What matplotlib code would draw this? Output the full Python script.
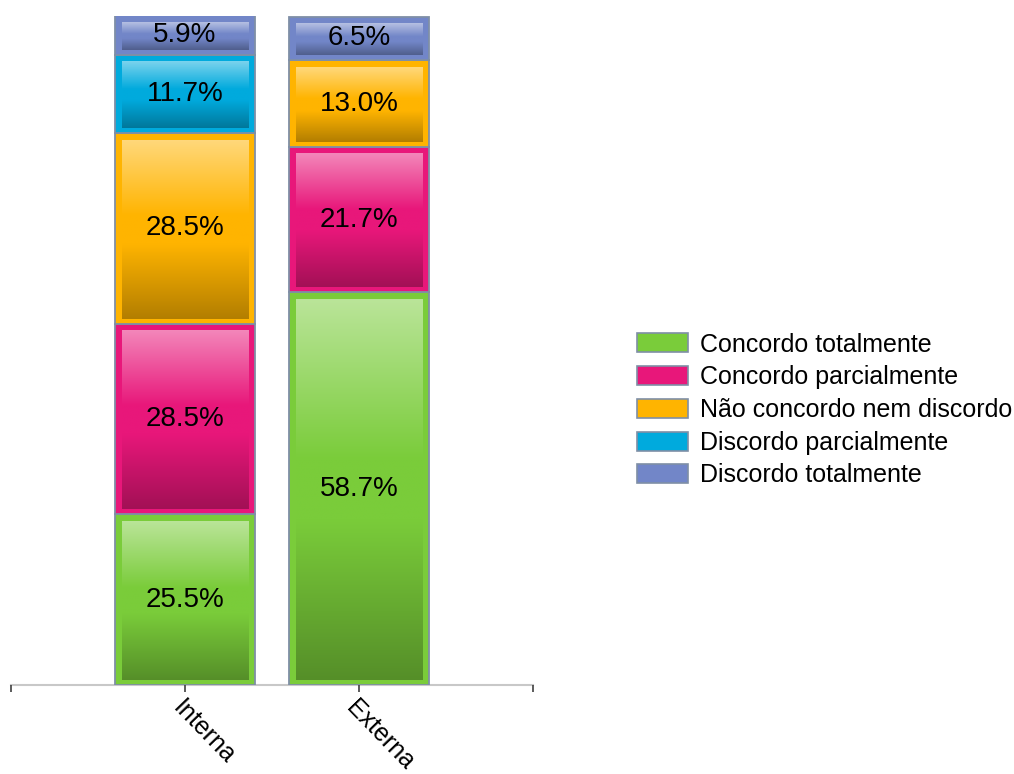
import numpy as np
import matplotlib
matplotlib.use("Agg")
import matplotlib.pyplot as plt
from matplotlib.patches import Patch
from matplotlib.colors import to_rgb

plt.rcParams['font.family'] = ['Liberation Sans', 'DejaVu Sans']

categories = ["Interna", "Externa"]
series_names = ["Concordo totalmente", "Concordo parcialmente",
                "Não concordo nem discordo", "Discordo parcialmente",
                "Discordo totalmente"]
interna = [25.5, 28.5, 28.5, 11.7, 5.9]
externa = [58.7, 21.7, 13.0, 0.0, 6.5]
colors = ["#7ACC3A", "#E8177A", "#FFB400", "#00AADD", "#7286C8"]
edge_color = "#7F8FA6"

values = np.array([interna, externa])  # rows: categories

W, H, DPI = 10.14, 7.74, 100
fig = plt.figure(figsize=(W, H), dpi=DPI)
ax_left, ax_right = 11 / 1014, 533 / 1014
ax_bot, ax_top = 1 - 685 / 774, 1 - 16 / 774
ax = fig.add_axes([ax_left, ax_bot, ax_right - ax_left, ax_top - ax_bot])

xpos = np.array([1, 2])
bar_w = 0.805
ax.set_xlim(0, 3)
ax.set_ylim(0, 100)

# pixel -> data conversions
px_x = 3 / (522)
px_y = 100 / 669


def gradient_img(base, n=200):
    b = np.array(to_rgb(base))
    light = b + (1 - b) * 0.48
    dark = b * 0.70
    t = np.linspace(0, 1, n)
    img = np.zeros((n, 1, 3))
    for i, ti in enumerate(t):
        if ti < 0.42:
            f = ti / 0.42
            c = light * (1 - f) + b * f
        elif ti < 0.58:
            c = b
        else:
            f = (ti - 0.58) / 0.42
            c = b * (1 - f) + dark * f
        img[i, 0] = c
    return img


bottoms = np.zeros(len(categories))
for j, name in enumerate(series_names):
    vals = values[:, j]
    bars = ax.bar(xpos, vals, width=bar_w, bottom=bottoms, color=colors[j],
                  edgecolor=edge_color, linewidth=1.3, zorder=2)
    for k, rect in enumerate(bars):
        v = vals[k]
        if v <= 0:
            continue
        x0 = rect.get_x() + 7 * px_x
        x1 = rect.get_x() + rect.get_width() - 7 * px_x
        y0 = rect.get_y() + 5 * px_y
        y1 = rect.get_y() + rect.get_height() - 7 * px_y
        ax.imshow(gradient_img(colors[j]), extent=(x0, x1, y0, y1),
                  aspect='auto', origin='upper', zorder=3,
                  interpolation='bilinear')
        ax.text(rect.get_x() + rect.get_width() / 2,
                rect.get_y() + rect.get_height() / 2,
                f"{v:.1f}%", ha='center', va='center', fontsize=20,
                color='black', zorder=4)
    bottoms = bottoms + vals

ax.set_xlim(0, 3)
ax.set_ylim(0, 100)

for s in ['top', 'right', 'left']:
    ax.spines[s].set_visible(False)
ax.spines['bottom'].set_color('#C8C8C8')
ax.spines['bottom'].set_linewidth(1.5)
ax.spines['bottom'].set_zorder(1)
ax.set_yticks([])
ax.set_xticks([0, 1, 2, 3])
ax.set_xticklabels([''] + categories + [''])
ax.tick_params(axis='x', direction='out', length=5, width=1.2,
               color='#404040', pad=3, labelsize=18)
for lbl in ax.get_xticklabels():
    lbl.set_rotation(-46)
    lbl.set_ha('left')
    lbl.set_va('top')
    lbl.set_rotation_mode('anchor')
ax.patch.set_alpha(0)

handles = [Patch(facecolor=c, edgecolor=edge_color, linewidth=1.2)
           for c in colors]
fig.legend(handles, series_names, loc='center left',
           bbox_to_anchor=(637 / 1014, 1 - 410 / 774), frameon=False,
           fontsize=18, handlelength=2.05, handleheight=0.8,
           handletextpad=0.48, labelspacing=0.35, borderpad=0,
           borderaxespad=0)

fig.savefig("out.png", dpi=DPI)
